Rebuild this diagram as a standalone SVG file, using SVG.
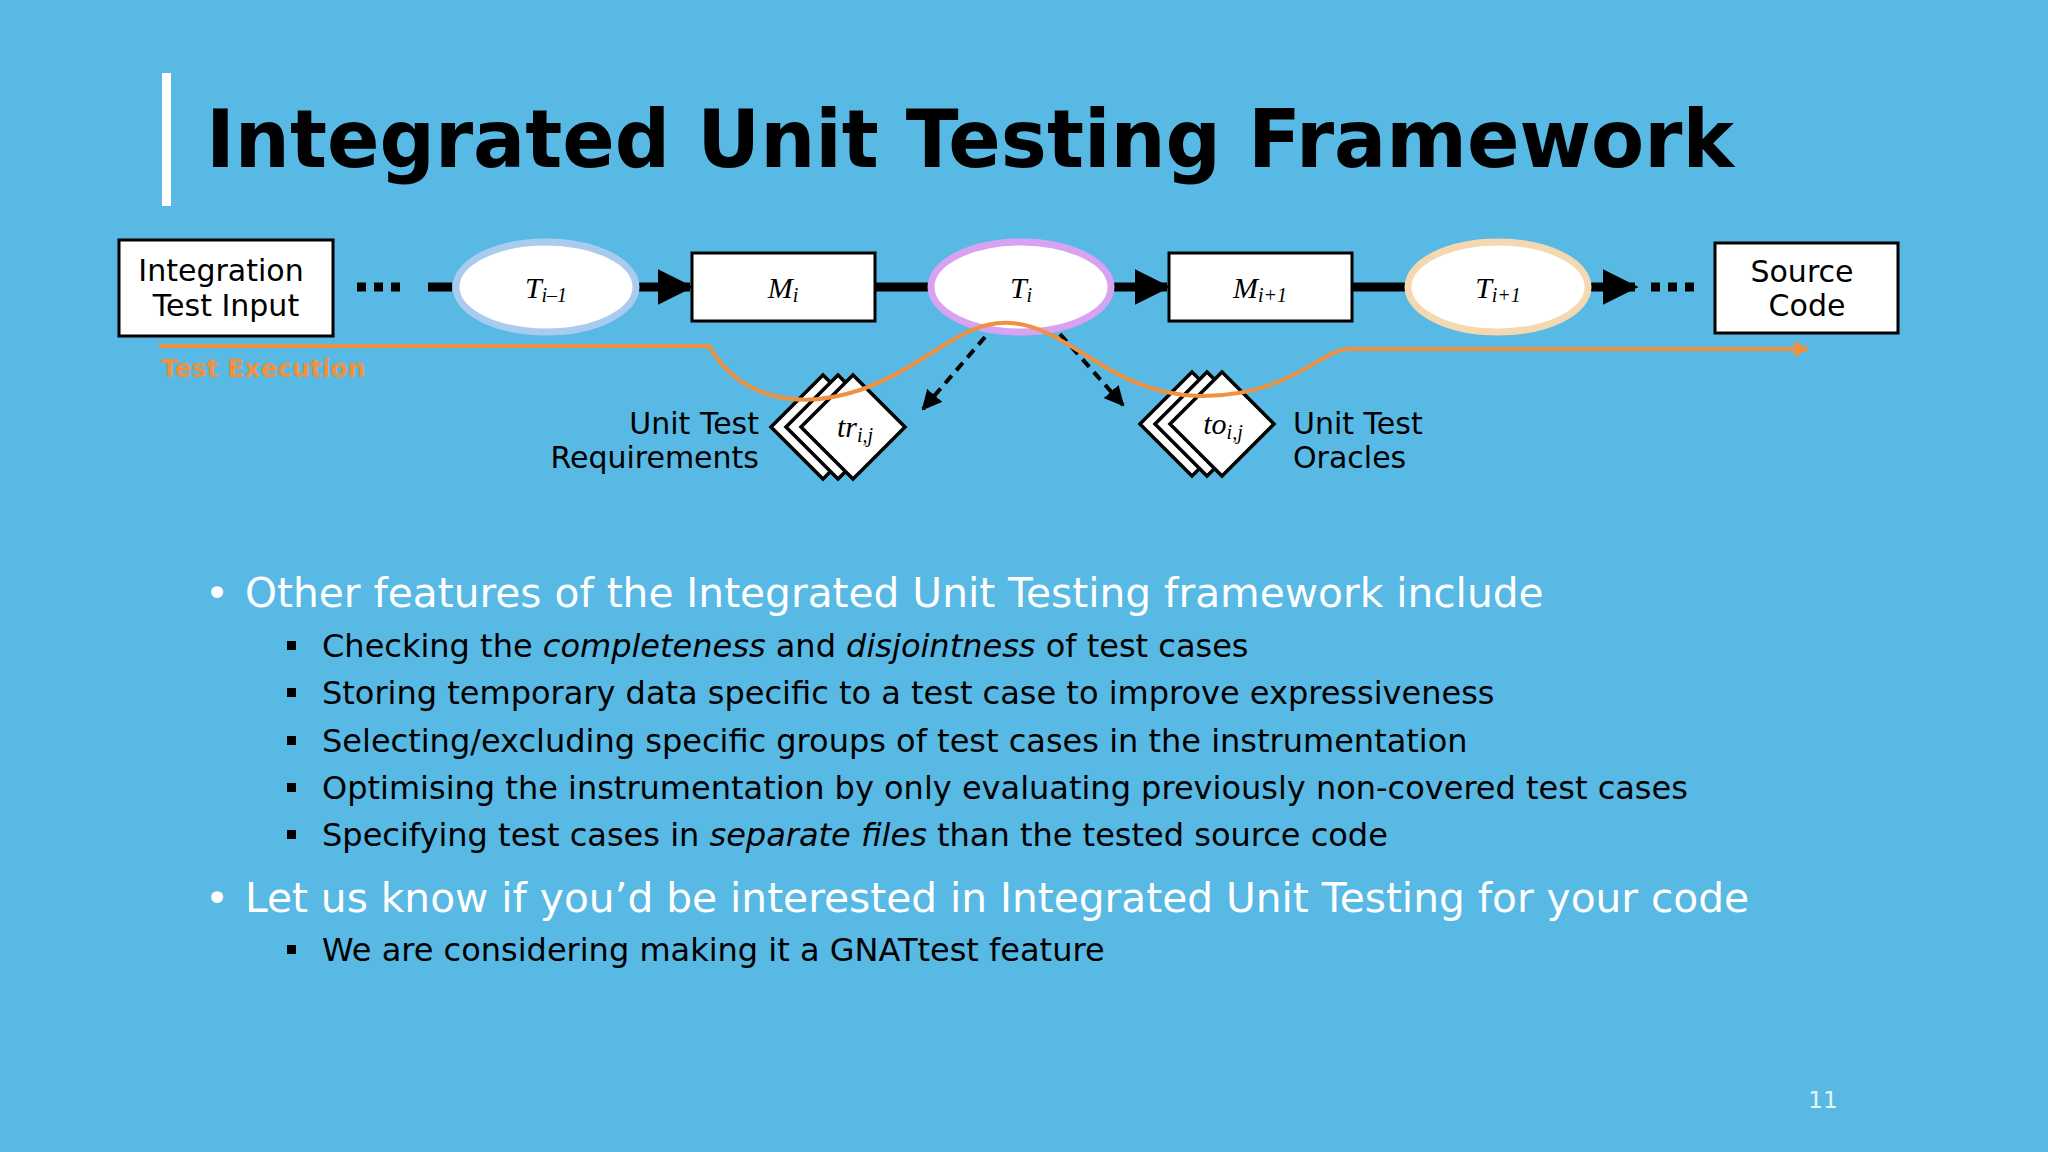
<svg xmlns="http://www.w3.org/2000/svg" width="2048" height="1152" viewBox="0 0 2048 1152">
<defs>
<style>
.box{fill:#fff;stroke:#000;stroke-width:3}
.lbl{font-family:"DejaVu Sans",sans-serif;font-size:30px;fill:#000}
.math{font-family:"Liberation Serif",serif;font-style:italic;font-size:30px;fill:#000}
.sub{font-size:20px}
.dia{fill:#fff;stroke:#000;stroke-width:3.5}
.b1{font-family:"DejaVu Sans",sans-serif;font-size:40.7px;fill:#fff}
.b2{font-family:"DejaVu Sans",sans-serif;font-size:32px;fill:#000}
</style>
<marker id="ah" viewBox="0 0 10 10" refX="9" refY="5" markerWidth="4" markerHeight="4" orient="auto"><path d="M0,0L10,5L0,10z" fill="#000"/></marker>
<marker id="ad" viewBox="0 0 10 10" refX="9" refY="5" markerWidth="5" markerHeight="5" orient="auto"><path d="M0,0L10,5L0,10z" fill="#000"/></marker>
<marker id="ao" viewBox="0 0 10 10" refX="9" refY="5" markerWidth="4" markerHeight="4" orient="auto"><path d="M0,0L10,5L0,10z" fill="#f0913f"/></marker>
</defs>
<rect width="2048" height="1152" fill="#57b9e4"/>
<rect x="162" y="73" width="9" height="133" fill="#fff"/>
<text x="206" y="167" font-family="DejaVu Sans, sans-serif" font-weight="bold" font-size="80" textLength="1528" lengthAdjust="spacingAndGlyphs">Integrated Unit Testing Framework</text>

<g id="connectors">
<line x1="357" y1="287" x2="408" y2="287" stroke="#000" stroke-width="9" stroke-dasharray="9,8"/>
<line x1="428" y1="287" x2="452" y2="287" stroke="#000" stroke-width="9"/>
<line x1="637" y1="287" x2="690" y2="287" stroke="#000" stroke-width="9" marker-end="url(#ah)"/>
<line x1="875" y1="287" x2="932" y2="287" stroke="#000" stroke-width="9"/>
<line x1="1113" y1="287" x2="1167" y2="287" stroke="#000" stroke-width="9" marker-end="url(#ah)"/>
<line x1="1352" y1="287" x2="1408" y2="287" stroke="#000" stroke-width="9"/>
<line x1="1591" y1="287" x2="1635" y2="287" stroke="#000" stroke-width="9" marker-end="url(#ah)"/>
<line x1="1651" y1="287" x2="1700" y2="287" stroke="#000" stroke-width="9" stroke-dasharray="9,8"/>
<line x1="985" y1="337" x2="923" y2="409" stroke="#000" stroke-width="4" stroke-dasharray="10,7" marker-end="url(#ad)"/>
<line x1="1060" y1="334" x2="1123" y2="405" stroke="#000" stroke-width="4" stroke-dasharray="10,7" marker-end="url(#ad)"/>
</g>

<g id="integration"><rect class="box" x="119" y="240" width="214" height="96"/>
<text class="lbl" x="221" y="281" text-anchor="middle">Integration</text><text class="lbl" x="226" y="316" text-anchor="middle">Test Input</text></g>
<g id="t_im1"><ellipse cx="546" cy="287" rx="90" ry="45" fill="#fff" stroke="#a8cbee" stroke-width="7"/>
<text class="math" x="546" y="298" text-anchor="middle">T<tspan class="sub" dy="4">i–1</tspan></text></g>
<g id="m_i"><rect class="box" x="692" y="253" width="183" height="68"/>
<text class="math" x="783" y="298" text-anchor="middle">M<tspan class="sub" dy="4">i</tspan></text></g>
<g id="t_i"><ellipse cx="1021" cy="287" rx="90" ry="45" fill="#fff" stroke="#d7a2f2" stroke-width="7"/>
<text class="math" x="1021" y="298" text-anchor="middle">T<tspan class="sub" dy="4">i</tspan></text></g>
<g id="m_ip1"><rect class="box" x="1169" y="253" width="183" height="68"/>
<text class="math" x="1260" y="298" text-anchor="middle">M<tspan class="sub" dy="4">i+1</tspan></text></g>
<g id="t_ip1"><ellipse cx="1498" cy="287" rx="90" ry="45" fill="#fff" stroke="#f4d8b2" stroke-width="7"/>
<text class="math" x="1498" y="298" text-anchor="middle">T<tspan class="sub" dy="4">i+1</tspan></text></g>
<g id="source"><rect class="box" x="1715" y="243" width="183" height="90"/>
<text class="lbl" x="1802" y="282" text-anchor="middle">Source</text><text class="lbl" x="1807" y="316" text-anchor="middle">Code</text></g>

<g id="tr">
<polygon class="dia" points="771,427 823,375 875,427 823,479"/>
<polygon class="dia" points="786,427 838,375 890,427 838,479"/>
<polygon class="dia" points="801,427 853,375 905,427 853,479"/>
<text class="math" x="855" y="437" text-anchor="middle">tr<tspan class="sub" dy="5">i,j</tspan></text>
<text class="lbl" x="759" y="434" text-anchor="end">Unit Test</text>
<text class="lbl" x="759" y="468" text-anchor="end">Requirements</text>
</g>
<g id="to">
<polygon class="dia" points="1140,424 1192,372 1244,424 1192,476"/>
<polygon class="dia" points="1155,424 1207,372 1259,424 1207,476"/>
<polygon class="dia" points="1170,424 1222,372 1274,424 1222,476"/>
<text class="math" x="1223" y="434" text-anchor="middle">to<tspan class="sub" dy="5">i,j</tspan></text>
<text class="lbl" x="1293" y="434">Unit Test</text>
<text class="lbl" x="1293" y="468">Oracles</text>
</g>

<g id="execution">
<path d="M159,346 L709,346 C740,400 800,410 860,390 C930,365 960,320 1010,323 C1070,326 1110,395 1200,396 C1290,397 1320,349 1350,349 L1808,349" fill="none" stroke="#f0913f" stroke-width="4" marker-end="url(#ao)"/>
<text x="161" y="377" font-family="DejaVu Sans, sans-serif" font-weight="bold" font-size="25" fill="#f0913f">Test Execution</text>
</g>

<g id="bullets">
<text class="b1" x="205" y="607">•</text>
<text class="b1" x="245" y="607">Other features of the Integrated Unit Testing framework include</text>
<rect x="287" y="641" width="9" height="9" fill="#000"/>
<text class="b2" x="322" y="657">Checking the <tspan font-style="italic">completeness</tspan> and <tspan font-style="italic">disjointness</tspan> of test cases</text>
<rect x="287" y="688" width="9" height="9" fill="#000"/>
<text class="b2" x="322" y="704">Storing temporary data specific to a test case to improve expressiveness</text>
<rect x="287" y="736" width="9" height="9" fill="#000"/>
<text class="b2" x="322" y="752">Selecting/excluding specific groups of test cases in the instrumentation</text>
<rect x="287" y="783" width="9" height="9" fill="#000"/>
<text class="b2" x="322" y="799">Optimising the instrumentation by only evaluating previously non-covered test cases</text>
<rect x="287" y="830" width="9" height="9" fill="#000"/>
<text class="b2" x="322" y="846">Specifying test cases in <tspan font-style="italic">separate files</tspan> than the tested source code</text>
<text class="b1" x="205" y="912">•</text>
<text class="b1" x="245" y="912">Let us know if you’d be interested in Integrated Unit Testing for your code</text>
<rect x="287" y="945" width="9" height="9" fill="#000"/>
<text class="b2" x="322" y="961">We are considering making it a GNATtest feature</text>
</g>
<text x="1823" y="1108" font-family="DejaVu Sans, sans-serif" font-size="23" fill="#e8f4fb" text-anchor="middle">11</text>
</svg>
